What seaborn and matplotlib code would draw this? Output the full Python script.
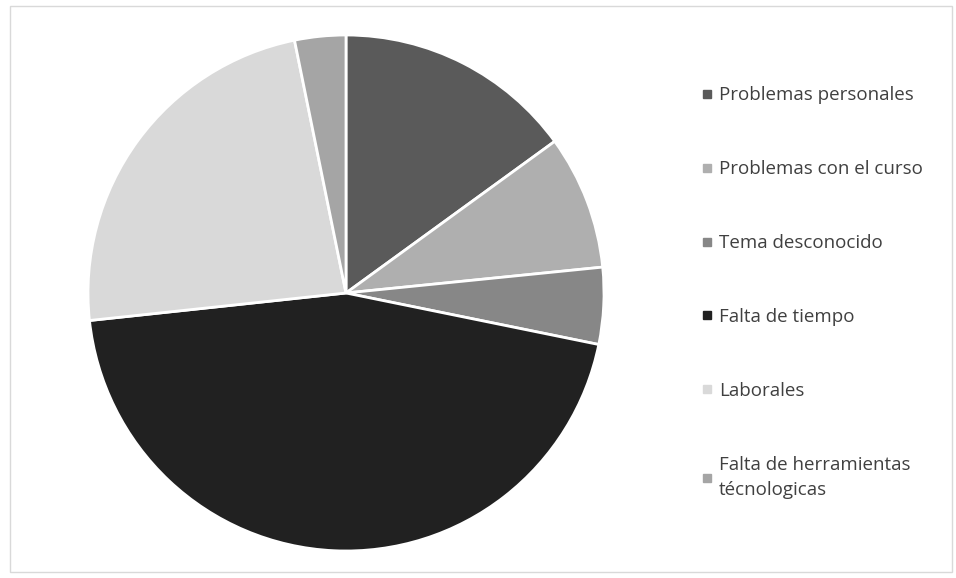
import numpy as np
import pandas as pd
import seaborn as sns
import matplotlib.pyplot as plt
from matplotlib.lines import Line2D
from matplotlib.patches import Rectangle

# razones de abandono (porcentajes)
labels = ['Problemas personales', 'Problemas con el curso', 'Tema desconocido',
          'Falta de tiempo', 'Laborales', 'Falta de herramientas\ntécnologicas']
values = [15.0, 8.4, 4.8, 45.1, 23.5, 3.2]
colors = ['#5a5a5a', '#afafaf', '#878787', '#212121', '#d9d9d9', '#a5a5a5']

sns.set_theme(style='white')
plt.rcParams['font.family'] = ['Open Sans', 'DejaVu Sans']

df = pd.DataFrame({'razon': labels, 'valor': values})

fig = plt.figure(figsize=(9.56, 5.78), dpi=100)
ax = fig.add_axes([88 / 956, 27 / 578, 516 / 956, 516 / 578])
wedges, _ = ax.pie(df['valor'], colors=colors, startangle=90, counterclock=False,
                   radius=1.0, wedgeprops={'edgecolor': 'white', 'linewidth': 2})
ax.set_xlim(-1.0, 1.0)
ax.set_ylim(-1.0, 1.0)
ax.set_aspect('auto')

handles = [Line2D([], [], marker='s', linestyle='none', markersize=6,
                  markerfacecolor=c, markeredgecolor=c) for c in colors]
leg = fig.legend(handles, df['razon'], loc='upper left',
                 bbox_to_anchor=(692 / 956, 1 - 77 / 578), frameon=False,
                 fontsize=13.5, labelspacing=2.98, handlelength=0.6,
                 handletextpad=0.35, borderpad=0)
for t in leg.get_texts():
    t.set_color('#404040')
leg.get_texts()[-1].set_linespacing(1.55)

fig.patches.append(Rectangle((10 / 956, 6 / 578), 942 / 956, 566 / 578,
                             transform=fig.transFigure, fill=False,
                             edgecolor='#d9d9d9', linewidth=1))

fig.savefig('out.png', dpi=100)
